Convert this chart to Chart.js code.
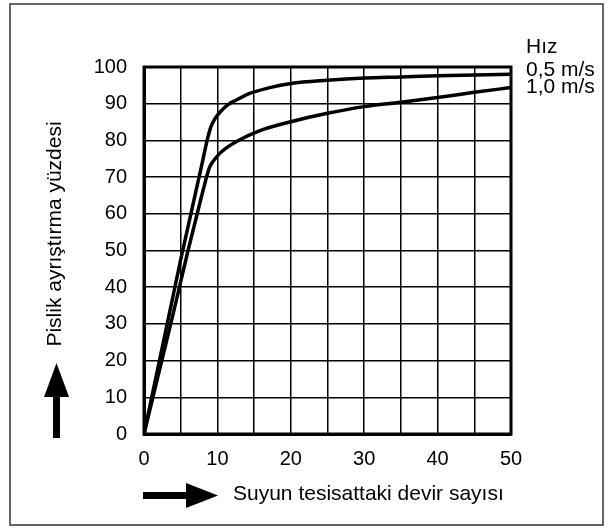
<!DOCTYPE html>
<html>
<head>
<meta charset="utf-8">
<script src="https://cdn.jsdelivr.net/npm/chart.js@4"></script>
<style>
  body { margin: 0; background: #fff; }
  #wrap { width: 612px; height: 529px; }
</style>
</head>
<body>
<div id="wrap"><canvas id="devir"></canvas></div>
<script>
// separation % against number of water circulations, for two flow speeds
const legendTitle = 'Hız';
const speedLabels = ['0,5 m/s', '1,0 m/s'];

const devir05 = [0, 2, 4, 5, 6, 7, 8, 8.6, 9.1, 9.7, 10.5, 11.5, 12.6, 14.4, 17, 20, 25, 30, 35, 40, 45, 50];
const yuzde05 = [0, 19, 38, 47.5, 56.5, 65.5, 74.5, 80, 83.6, 86, 88, 89.8, 91, 92.8, 94.3, 95.5, 96.4, 97, 97.3, 97.6, 97.8, 98];

const devir10 = [0, 2, 4, 5, 6, 7, 8, 8.9, 9.5, 10.3, 11, 12.6, 15.7, 20, 25, 30, 35, 40, 45, 50];
const yuzde10 = [0, 16.5, 33, 41.5, 50, 58, 66, 72.5, 74.5, 76.4, 77.6, 79.7, 82.6, 85.1, 87.4, 89.2, 90.4, 91.7, 93.1, 94.4];

const xTitle = 'Suyun tesisattaki devir sayısı';
const yTitle = 'Pislik ayrıştırma yüzdesi';

const FONT = '"Liberation Sans", Arial, sans-serif';

function toPoints(xs, ys) {
    return xs.map((x, i) => ({x: x, y: ys[i]}));
}

// frame, arrows, axis titles and speed labels
const decor = {
    id: 'decor',
    beforeDraw(chart) {
        const ctx = chart.ctx;
        ctx.save();
        ctx.strokeStyle = '#333';
        ctx.lineWidth = 1.5;
        ctx.strokeRect(10, 4, 593, 521);
        ctx.restore();
    },
    afterDraw(chart) {
        const ctx = chart.ctx;
        const a = chart.chartArea;
        ctx.save();
        ctx.strokeStyle = '#000';
        ctx.lineWidth = 3;
        ctx.strokeRect(a.left, a.top, a.right - a.left, a.bottom - a.top);

        ctx.fillStyle = '#000';
        ctx.font = '21px ' + FONT;

        // speed labels on the right
        ctx.textAlign = 'left';
        ctx.textBaseline = 'middle';
        ctx.fillText(legendTitle, a.right + 15, 47);
        ctx.fillText(speedLabels[0], a.right + 15, 70.5);
        ctx.fillText(speedLabels[1], a.right + 15, 87.5);

        // x title with arrow
        ctx.fillText(xTitle, 233, 494);
        ctx.fillRect(143, 492, 44, 7);
        ctx.beginPath();
        ctx.moveTo(186, 483);
        ctx.lineTo(218, 495.5);
        ctx.lineTo(186, 508);
        ctx.closePath();
        ctx.fill();

        // y title with arrow
        ctx.save();
        ctx.translate(55, 234);
        ctx.rotate(-Math.PI / 2);
        ctx.textAlign = 'center';
        ctx.fillText(yTitle, 0, 0);
        ctx.restore();
        ctx.fillRect(53, 396, 7, 42);
        ctx.beginPath();
        ctx.moveTo(44, 397);
        ctx.lineTo(56.5, 363);
        ctx.lineTo(69, 397);
        ctx.closePath();
        ctx.fill();

        ctx.restore();
    }
};

const ctxDevir = document.getElementById('devir');

new Chart(ctxDevir, {
    type: 'scatter',
    data: {
        datasets: [{
            label: speedLabels[0],
            data: toPoints(devir05, yuzde05),
            showLine: true,
            borderColor: '#000',
            borderWidth: 3.5,
            pointRadius: 0,
            cubicInterpolationMode: 'monotone'
        }, {
            label: speedLabels[1],
            data: toPoints(devir10, yuzde10),
            showLine: true,
            borderColor: '#000',
            borderWidth: 3.5,
            pointRadius: 0,
            cubicInterpolationMode: 'monotone'
        }]
    },
    options: {
        responsive: true,
        maintainAspectRatio: false,
        animation: false,
        layout: {
            padding: {left: 0, top: 67, right: 101, bottom: 0}
        },
        plugins: {
            legend: {display: false},
            tooltip: {enabled: false}
        },
        scales: {
            x: {
                type: 'linear',
                min: 0,
                max: 50,
                ticks: {
                    stepSize: 5,
                    color: '#000',
                    padding: 13,
                    maxRotation: 0,
                    font: {family: FONT, size: 20},
                    callback: v => (v % 10 === 0 ? v : '')
                },
                grid: {color: '#000', lineWidth: 1.5, drawTicks: false},
                border: {color: '#000', width: 3},
                afterFit: scale => { scale.height = 95; }
            },
            y: {
                min: 0,
                max: 100,
                ticks: {
                    stepSize: 10,
                    color: '#000',
                    padding: 17,
                    font: {family: FONT, size: 20}
                },
                grid: {color: '#000', lineWidth: 1.5, drawTicks: false},
                border: {color: '#000', width: 3},
                afterFit: scale => { scale.width = 144; }
            }
        }
    },
    plugins: [decor]
});
</script>
</body>
</html>
